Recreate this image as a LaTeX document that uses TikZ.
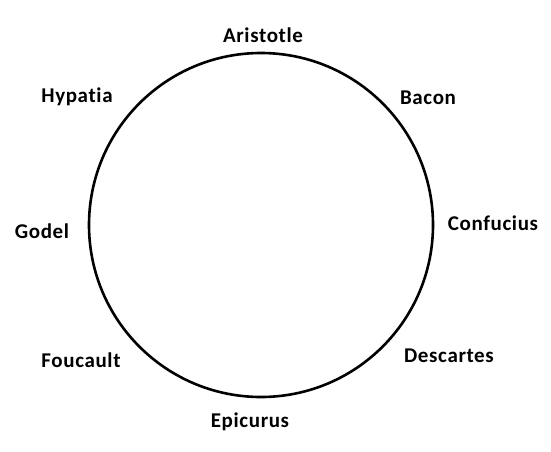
\documentclass[tikz,border=0pt]{standalone}
\usepackage{fontspec}
\setmainfont{Carlito}[RawFeature=-liga, LetterSpace=3]
\begin{document}
\begin{tikzpicture}[x=1pt,y=-1pt,
  lbl/.style={font=\bfseries\fontsize{21}{25}\selectfont, inner sep=0pt}]
\useasboundingbox (0,0) rectangle (551,452);
\node[draw, circle, line width=2.6pt, minimum size=344pt, inner sep=0pt] (c) at (261,225) {};
\node[lbl] (aristotle) at (263,35) {Aristotle};
\node[lbl] (bacon) at (428,98) {Bacon};
\node[lbl] (confucius) at (493,223) {Confucius};
\node[lbl] (descartes) at (449,356) {Descartes};
\node[lbl] (epicurus) at (250,422) {Epicurus};
\node[lbl] (foucault) at (81,360) {Foucault};
\node[lbl] (godel) at (42,231) {Godel};
\node[lbl] (hypatia) at (77,97) {Hypatia};
\end{tikzpicture}
\end{document}
